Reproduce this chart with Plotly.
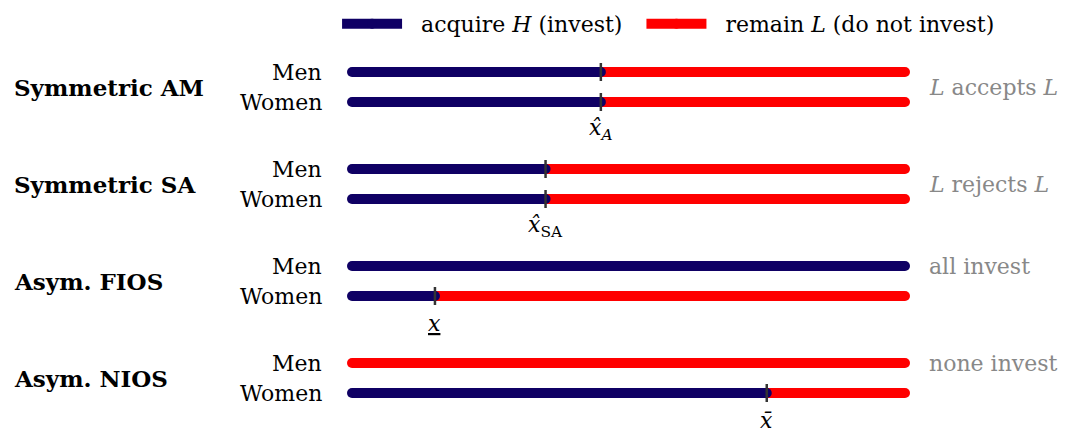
import plotly.graph_objects as go

# Daten
gruppen = ["Symmetric AM", "Symmetric SA", "Asym. FIOS", "Asym. NIOS"]
zeilen = ["Men", "Women"]
# Anteil, der investiert (Grenze zwischen blau und rot), je Gruppe
grenze_men = [0.45, 0.35, 1.0, 0.0]
grenze_women = [0.45, 0.35, 0.15, 0.75]
grenz_labels = ["<i>x̂</i><sub><i>A</i></sub>", "<i>x̂</i><sub>SA</sub>",
                "<u><i>x</i></u>", "<i>x̄</i>"]
ergebnis = ["<i>L</i> accepts <i>L</i>", "<i>L</i> rejects <i>L</i>",
            "all invest", "none invest"]
ergebnis_zeile = [0.5, 0.5, 0, 0]  # 0 = Men, 1 = Women, 0.5 = dazwischen

blau = "#0f0064"
rot = "#ff0000"
schrift = "DejaVu Serif"
groesse = 22

abstand_gruppe = 97
abstand_zeile = 30
rand = 20  # Platz ueber/unter den Linien, damit sie nicht abgeschnitten werden

fig = go.Figure()

def zeile_y(g, r):
    return -(g * abstand_gruppe + r * abstand_zeile)

legende_gezeigt = {"blau": False, "rot": False}

for g, name in enumerate(gruppen):
    for r, grenze in enumerate([grenze_men[g], grenze_women[g]]):
        y = zeile_y(g, r)
        # rot zuerst, blau darueber (runde Enden ueber der Grenze)
        if grenze < 1:
            fig.add_trace(go.Scatter(
                x=[grenze, 1], y=[y, y], mode="lines+markers",
                line=dict(color=rot, width=10),
                marker=dict(color=rot, size=10),
                name="\u00a0\u00a0remain <i>L</i> (do not invest)",
                legendrank=2,
                showlegend=not legende_gezeigt["rot"],
                cliponaxis=False, hoverinfo="skip"))
            legende_gezeigt["rot"] = True
        if grenze > 0:
            fig.add_trace(go.Scatter(
                x=[0, grenze], y=[y, y], mode="lines+markers",
                line=dict(color=blau, width=10),
                marker=dict(color=blau, size=10),
                name="\u00a0\u00a0acquire <i>H</i> (invest)\u00a0\u00a0",
                legendrank=1,
                showlegend=not legende_gezeigt["blau"],
                cliponaxis=False, hoverinfo="skip"))
            legende_gezeigt["blau"] = True
        if 0 < grenze < 1:
            fig.add_shape(type="line", x0=grenze, x1=grenze, y0=y - 9, y1=y + 9,
                          line=dict(color="#333333", width=2.5))
        # Zeilenbeschriftung
        fig.add_annotation(x=0, y=y, xref="x", yref="y", text=zeilen[r],
                           showarrow=False, xanchor="right", xshift=-28,
                           font=dict(family=schrift, size=groesse, color="black"))

    # Gruppenname
    fig.add_annotation(x=-0.615, y=zeile_y(g, 0.5), xref="paper", yref="y",
                       text="<b>" + name + "</b>", showarrow=False, xanchor="left",
                       font=dict(family=schrift, size=23, color="black"))
    # Ergebnis rechts
    fig.add_annotation(x=1, y=zeile_y(g, ergebnis_zeile[g]), xref="x", yref="y",
                       text=ergebnis[g], showarrow=False, xanchor="left", xshift=22,
                       font=dict(family=schrift, size=groesse, color="#888888"))
    # Grenzbeschriftung unter Women
    if 0 < grenze_women[g] < 1:
        fig.add_annotation(x=grenze_women[g], y=zeile_y(g, 1), xref="x", yref="y",
                           text=grenz_labels[g], showarrow=False, yshift=-27,
                           font=dict(family=schrift, size=groesse, color="black"))

fig.update_layout(
    width=1071, height=432,
    margin=dict(l=352, r=166, t=72 - rand, b=39 - rand, autoexpand=False),
    plot_bgcolor="white", paper_bgcolor="white",
    xaxis=dict(range=[0, 1], visible=False),
    yaxis=dict(range=[zeile_y(3, 1) - rand, rand], visible=False),
    legend=dict(orientation="h", x=-0.027, y=1.078, xanchor="left", yanchor="middle",
                font=dict(family=schrift, size=groesse, color="black"),
                itemwidth=60, traceorder="normal"),
    font=dict(family=schrift),
)

fig.write_html("out.html", config={"displayModeBar": False},
               post_script="document.body.style.margin='0';")
